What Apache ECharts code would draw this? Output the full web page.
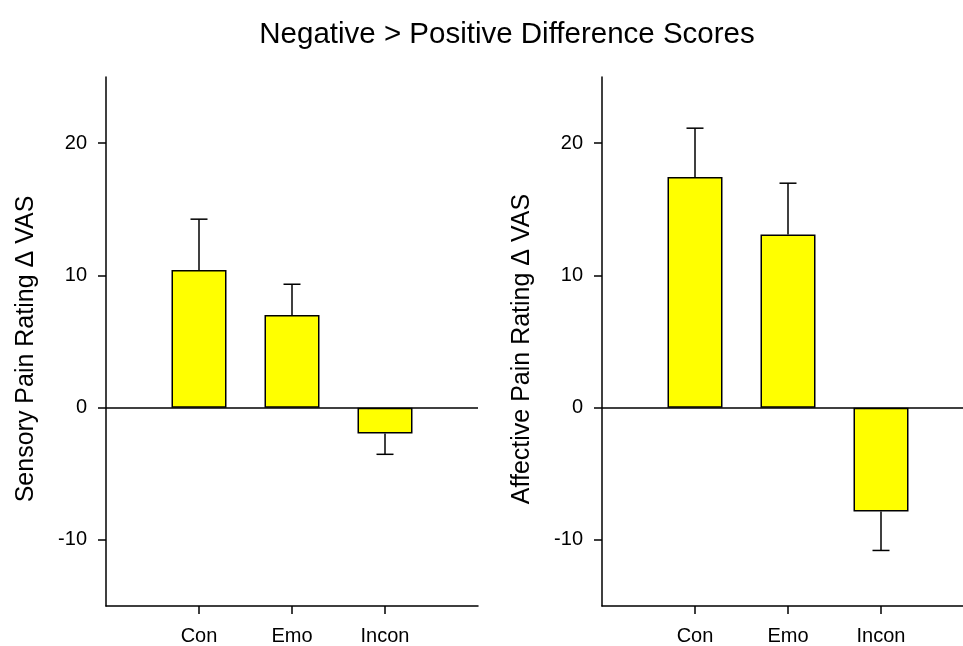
<!DOCTYPE html>
<html>
<head>
<meta charset="utf-8">
<script src="https://cdn.jsdelivr.net/npm/echarts@6/dist/echarts.min.js"></script>
<style>html,body{margin:0;padding:0;background:#fff}#c{width:963px;height:646px}</style>
</head>
<body>
<div id="c"></div>
<script>
var title = 'Negative > Positive Difference Scores';
var categories = ['Con', 'Emo', 'Incon'];
var sensoryMean = [10.4, 7.0, -1.95];
var sensoryErr = [14.25, 9.33, -3.53];
var affectiveMean = [17.43, 13.1, -7.85];
var affectiveErr = [21.13, 16.97, -10.8];
var yTicks = [-10, 0, 10, 20];
var yNames = ['Sensory Pain Rating \u0394 VAS', 'Affective Pain Rating \u0394 VAS'];

var FONT = '"Liberation Sans", Arial, Helvetica, sans-serif';
var padded = [''].concat(categories).concat(['']);

function barData(arr) { return ['-'].concat(arr).concat(['-']); }
function errData(mean, err) {
  return categories.map(function (c, i) { return [c, mean[i], err[i]]; });
}

function errRender(params, api) {
  var p0 = api.coord([api.value(0), api.value(1)]);
  var p1 = api.coord([api.value(0), api.value(2)]);
  var half = 8.5;
  var st = { stroke: '#000', lineWidth: 1.5 };
  return {
    type: 'group',
    children: [
      { type: 'line', shape: { x1: p0[0], y1: p0[1], x2: p1[0], y2: p1[1] }, style: st },
      { type: 'line', shape: { x1: p1[0] - half, y1: p1[1], x2: p1[0] + half, y2: p1[1] }, style: st }
    ]
  };
}

function xAxis(gi) {
  return {
    type: 'category', gridIndex: gi, data: padded, boundaryGap: false,
    axisLine: { onZero: false, lineStyle: { color: '#000', width: 1.5 } },
    axisTick: { show: true, length: 8, lineStyle: { color: '#000', width: 1.5 },
      interval: function (i) { return i >= 1 && i <= categories.length; } },
    axisLabel: { color: '#000', fontSize: 20, fontFamily: FONT, margin: 20,
      interval: function (i) { return i >= 1 && i <= categories.length; } },
    splitLine: { show: false }
  };
}
function yAxis(gi) {
  return {
    type: 'value', gridIndex: gi, min: -15, max: 25, interval: 5,
    name: yNames[gi], nameLocation: 'middle', nameGap: 67, nameRotate: 90,
    nameTextStyle: { color: '#000', fontSize: 25, fontFamily: FONT, padding: [0, 15, 0, 0] },
    axisLine: { show: true, lineStyle: { color: '#000', width: 1.5 } },
    axisTick: { show: true, length: 8, lineStyle: { color: '#000', width: 1.5 }, customValues: yTicks },
    axisLabel: { color: '#000', fontSize: 20, fontFamily: FONT, margin: 19, customValues: yTicks },
    splitLine: { show: false }
  };
}
function barSeries(gi, data) {
  return {
    type: 'bar', xAxisIndex: gi, yAxisIndex: gi, data: barData(data), barWidth: 55,
    itemStyle: { color: '#ffff00', borderColor: '#000', borderWidth: 1.5 },
    markLine: { silent: true, symbol: 'none', label: { show: false },
      lineStyle: { color: '#000', type: 'solid', width: 1.5 }, data: [{ yAxis: 0 }] },
    animation: false
  };
}
function errSeries(gi, mean, err) {
  return { type: 'custom', xAxisIndex: gi, yAxisIndex: gi, data: errData(mean, err),
    renderItem: errRender, z: 1, animation: false };
}

var chart = echarts.init(document.getElementById('c'));
chart.setOption({
  backgroundColor: '#fff',
  animation: false,
  title: { text: title, left: 502, textAlign: 'center', top: 15,
    textStyle: { color: '#000', fontSize: 29.5, fontWeight: 'normal', fontFamily: FONT } },
  grid: [
    { left: 106, top: 77, width: 372, height: 529, outerBoundsMode: 'none', containLabel: false },
    { left: 602, top: 77, width: 372, height: 529, outerBoundsMode: 'none', containLabel: false }
  ],
  xAxis: [xAxis(0), xAxis(1)],
  yAxis: [yAxis(0), yAxis(1)],
  series: [
    errSeries(0, sensoryMean, sensoryErr),
    barSeries(0, sensoryMean),
    errSeries(1, affectiveMean, affectiveErr),
    barSeries(1, affectiveMean)
  ]
});
</script>
</body>
</html>
